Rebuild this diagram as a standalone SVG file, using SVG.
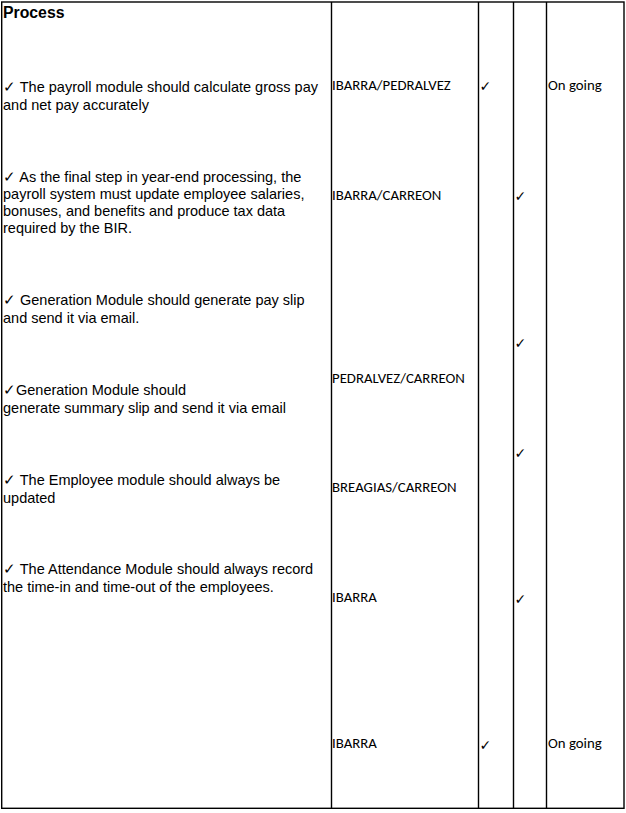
<svg xmlns="http://www.w3.org/2000/svg" width="626" height="813" viewBox="0 0 626 813">
<style>
.g{stroke:#000;stroke-width:1.4;fill:none}
.t{font-family:"Liberation Sans",Arial,sans-serif;font-size:14.5px;fill:#000}
.b{font-weight:bold;font-size:15.8px}
.c{font-family:Carlito,Lato,"Open Sans",sans-serif;font-size:14.8px;fill:#000}
.k{font-family:"DejaVu Sans",sans-serif;font-size:14px;fill:#000}
</style>
<rect width="626" height="813" fill="#fff"/>
<g id="grid">
<rect class="g" x="1.7" y="2" width="622.3" height="806.3"/>
<line class="g" x1="331.5" y1="2" x2="331.5" y2="808.3"/>
<line class="g" x1="478.5" y1="2" x2="478.5" y2="808.3"/>
<line class="g" x1="513.5" y1="2" x2="513.5" y2="808.3"/>
<line class="g" x1="546.5" y1="2" x2="546.5" y2="808.3"/>
</g>
<g id="header"><text class="t b" x="3" y="18">Process</text></g>
<g id="row1">
<text class="t" x="3" y="92">✓ The payroll module should calculate gross pay</text>
<text class="t" x="3" y="110">and net pay accurately</text>
<text class="c" x="332" y="90">IBARRA/PEDRALVEZ</text>
<text class="k" x="479.5" y="91">✓</text>
<text class="c" x="548" y="90">On going</text>
</g>
<g id="row2">
<text class="t" x="3" y="182">✓ As the final step in year-end processing, the</text>
<text class="t" x="3" y="199">payroll system must update employee salaries,</text>
<text class="t" x="3" y="216">bonuses, and benefits and produce tax data</text>
<text class="t" x="3" y="233">required by the BIR.</text>
<text class="c" x="332" y="200">IBARRA/CARREON</text>
<text class="k" x="514.5" y="201">✓</text>
</g>
<g id="row3">
<text class="t" x="3" y="305">✓ Generation Module should generate pay slip</text>
<text class="t" x="3" y="323">and send it via email.</text>
<text class="k" x="514.5" y="348">✓</text>
</g>
<g id="row4">
<text class="c" x="332" y="383">PEDRALVEZ/CARREON</text>
<text class="t" x="3" y="395">✓Generation Module should</text>
<text class="t" x="3" y="413">generate summary slip and send it via email</text>
<text class="k" x="514.5" y="458">✓</text>
</g>
<g id="row5">
<text class="t" x="3" y="485">✓ The Employee module should always be</text>
<text class="t" x="3" y="503">updated</text>
<text class="c" x="332" y="492">BREAGIAS/CARREON</text>
</g>
<g id="row6">
<text class="t" x="3" y="574">✓ The Attendance Module should always record</text>
<text class="t" x="3" y="592">the time-in and time-out of the employees.</text>
<text class="c" x="332" y="602">IBARRA</text>
<text class="k" x="514.5" y="604">✓</text>
</g>
<g id="row7">
<text class="c" x="332" y="748">IBARRA</text>
<text class="k" x="479.5" y="750">✓</text>
<text class="c" x="548" y="748">On going</text>
</g>
</svg>
